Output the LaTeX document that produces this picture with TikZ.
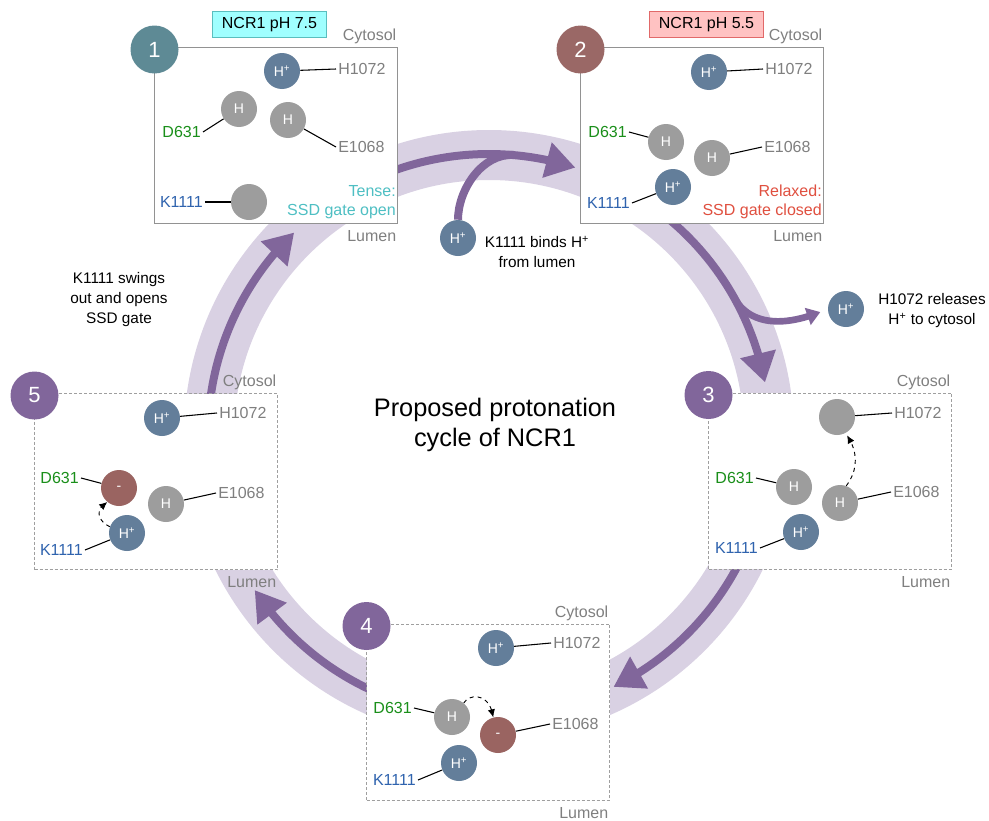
\documentclass[tikz,border=0pt]{standalone}
\usepackage{fontspec}
\setmainfont{Liberation Sans}
\usetikzlibrary{arrows.meta,bending,calc}

\definecolor{cband}{RGB}{217,209,227}
\definecolor{ccyc}{RGB}{129,102,155}
\definecolor{cprot}{RGB}{99,126,154}
\definecolor{cneut}{RGB}{157,157,157}
\definecolor{cneg}{RGB}{154,100,97}
\definecolor{cone}{RGB}{94,138,149}
\definecolor{ctwo}{RGB}{154,104,102}
\definecolor{cres}{RGB}{127,127,127}
\definecolor{cgreen}{RGB}{26,143,26}
\definecolor{cblue}{RGB}{47,99,174}
\definecolor{cteal}{RGB}{78,191,195}
\definecolor{cred}{RGB}{224,80,64}

\begin{document}
\begin{tikzpicture}[x=0.75pt,y=0.75pt,yscale=-1,xscale=1,
  prot/.style={circle,fill=cprot,text=white,minimum size=27pt,inner sep=0pt,font=\fontsize{10.5}{12}\selectfont},
  neut/.style={prot,fill=cneut},
  neg/.style={prot,fill=cneg},
  numc/.style={circle,fill=ccyc,text=white,minimum size=36pt,inner sep=0pt,font=\fontsize{16.5}{18}\selectfont},
  reslbl/.style={inner sep=1.5pt,font=\fontsize{12}{14}\selectfont,text=cres},
  stick/.style={line width=0.8pt},
  solidbox/.style={draw=cres!85,line width=0.8pt,fill=white,minimum width=182.25pt,minimum height=132pt,inner sep=0pt,outer sep=0pt},
  dashbox/.style={solidbox,draw=cres!75,line width=0.6pt,dash pattern=on 2.25pt off 1.5pt},
  sidelbl/.style={font=\fontsize{12}{14}\selectfont,text=cres,inner sep=0pt},
  statetxt/.style={align=right,inner sep=0pt,font=\fontsize{12}{14.5}\selectfont},
  cyc/.style={draw=ccyc,line width=6pt,-{Triangle[length=22pt,width=26pt]}},
  hop/.style={dashed,line width=0.7pt,-{Latex[length=6pt,width=5.5pt]}},
  notetxt/.style={align=center,font=\fontsize{11.5}{15}\selectfont}
]
  \path[use as bounding box] (0,0) rectangle (989,821);
  \coordinate (ring) at (489,435);
  %Shape: Ring
  \draw[cband,line width=37.5pt] (ring) circle[radius=280];
  %Curve Lines
  \draw[cyc] ($(ring)+(186:281)$) arc[start angle=186,end angle=226.1,radius=281];
  \draw[cyc] ($(ring)+(248:281)$) arc[start angle=248,end angle=287.9,radius=281];
  \draw[cyc] ($(ring)+(309:281)$) arc[start angle=309,end angle=349.2,radius=281];
  \draw[cyc] ($(ring)+(26:281)$) arc[start angle=26,end angle=63.7,radius=281];
  \draw[cyc] ($(ring)+(113:281)$) arc[start angle=113,end angle=146.5,radius=281];

  % Side protons
  \node[prot] (hlum) at (458,238) {H\textsuperscript{+}};
  \node[prot] (hcyt) at (846,309) {H\textsuperscript{+}};
  \draw[ccyc,line width=6pt] (hlum.north) .. controls (458,190) and (482,153) .. (514,155);
  \draw[ccyc,line width=5pt,-{Triangle[length=10pt,width=13pt]},shorten >=6pt] ($(ring)+(-29.5:281)$) .. controls (746,320) and (775,332) .. (hcyt.west);
  % Text Node
  \node[notetxt] (lumtxt) at (537,252) {K1111 binds H\textsuperscript{+}\\from lumen};
  \node[notetxt] (cyttxt) at (932,311) {H1072 releases\\H\textsuperscript{+} to cytosol};
  \node[notetxt] (swing) at (119,300) {K1111 swings\\out and opens\\SSD gate};
  \node[align=center,font=\fontsize{19}{22.5}\selectfont] (title) at (495,425) {Proposed protonation\\cycle of NCR1};

  %Shape: Panels
  \node[solidbox] (pan1) at (276,135.5) {};
  \node[solidbox] (pan2) at (702,135.5) {};
  \node[dashbox] (pan3) at (830,481) {};
  \node[dashbox] (pan4) at (488,712) {};
  \node[dashbox] (pan5) at (156,481.5) {};
  \foreach \p in {1,...,5}{
    \node[sidelbl,anchor=base east] (cyt\p) at ($(pan\p.north east)+(-1,-7)$) {Cytosol};
    \node[sidelbl,anchor=base east] (lum\p) at ($(pan\p.south east)+(-1,18)$) {Lumen};
  }
  \node[numc,fill=cone] (n1) at ($(pan1.north west)+(0,2)$) {1};
  \node[numc,fill=ctwo] (n2) at ($(pan2.north west)+(0,2)$) {2};
  \node[numc] (n3) at ($(pan3.north west)+(0,2)$) {3};
  \node[numc] (n4) at ($(pan4.north west)+(0,2)$) {4};
  \node[numc] (n5) at ($(pan5.north west)+(0,2)$) {5};
  \node[draw={rgb,255:red,90;green,190;blue,190},fill={rgb,255:red,160;green,255;blue,255},line width=0.8pt,minimum width=86pt,minimum height=19pt,inner sep=0pt,font=\fontsize{12}{14}\selectfont] (ph1) at (269.5,24.5) {NCR1 pH 7.5};
  \node[draw={rgb,255:red,225;green,105;blue,105},fill={rgb,255:red,255;green,194;blue,194},line width=0.8pt,minimum width=86pt,minimum height=19pt,inner sep=0pt,font=\fontsize{12}{14}\selectfont] (ph2) at (706.5,24.5) {NCR1 pH 5.5};

  % Panel 1
  \node[prot] (p1h) at (282,71) {H\textsuperscript{+}};
  \node[neut] (p1d) at (239,109) {H};
  \node[neut] (p1e) at (288,120) {H};
  \node[neut] (p1k) at (249,202) {};
  \node[reslbl,anchor=west] (p1hl) at (336,69) {H1072};
  \node[reslbl,anchor=east,text=cgreen] (p1dl) at (203,132) {D631};
  \node[reslbl,anchor=west] (p1el) at (336,147) {E1068};
  \node[reslbl,anchor=east,text=cblue] (p1kl) at (205,202) {K1111};
  \draw[stick] (p1h) -- (p1hl.west);
  \draw[stick] (p1d) -- (p1dl.east);
  \draw[stick] (p1e) -- (p1el.west);
  \draw[stick] (p1k) -- (p1kl.east);
  \node[statetxt,anchor=east,text=cteal] (p1st) at (396,202) {Tense:\\SSD gate open};

  % Panel 2
  \node[prot] (p2h) at (709,72) {H\textsuperscript{+}};
  \node[neut] (p2d) at (666,142) {H};
  \node[neut] (p2e) at (712,158) {H};
  \node[prot] (p2k) at (673,187) {H\textsuperscript{+}};
  \node[reslbl,anchor=west] (p2hl) at (763,69) {H1072};
  \node[reslbl,anchor=east,text=cgreen] (p2dl) at (629,132) {D631};
  \node[reslbl,anchor=west] (p2el) at (762,147) {E1068};
  \node[reslbl,anchor=east,text=cblue] (p2kl) at (632,203) {K1111};
  \draw[stick] (p2h) -- (p2hl.west);
  \draw[stick] (p2d) -- (p2dl.east);
  \draw[stick] (p2e) -- (p2el.west);
  \draw[stick] (p2k) -- (p2kl.east);
  \node[statetxt,anchor=east,text=cred] (p2st) at (822,202) {Relaxed:\\SSD gate closed};

  % Panel 3
  \node[neut] (p3h) at (837,417) {};
  \node[neut] (p3d) at (794,487) {H};
  \node[neut] (p3e) at (840,503) {H};
  \node[prot] (p3k) at (801,532) {H\textsuperscript{+}};
  \node[reslbl,anchor=west] (p3hl) at (892,413) {H1072};
  \node[reslbl,anchor=east,text=cgreen] (p3dl) at (756,478) {D631};
  \node[reslbl,anchor=west] (p3el) at (891,492) {E1068};
  \node[reslbl,anchor=east,text=cblue] (p3kl) at (760,548) {K1111};
  \draw[stick] (p3h) -- (p3hl.west);
  \draw[stick] (p3d) -- (p3dl.east);
  \draw[stick] (p3e) -- (p3el.west);
  \draw[stick] (p3k) -- (p3kl.east);
  \draw[hop,shorten >=2pt] (p3e.70) .. controls (858,470) and (859,452) .. (p3h.-62);

  % Panel 4
  \node[prot] (p4h) at (496,648) {H\textsuperscript{+}};
  \node[neut] (p4d) at (452,717) {H};
  \node[neg] (p4e) at (498,735) {-};
  \node[prot] (p4k) at (459,763) {H\textsuperscript{+}};
  \node[reslbl,anchor=west] (p4hl) at (551,643) {H1072};
  \node[reslbl,anchor=east,text=cgreen] (p4dl) at (414,708) {D631};
  \node[reslbl,anchor=west] (p4el) at (550,724) {E1068};
  \node[reslbl,anchor=east,text=cblue] (p4kl) at (418,780) {K1111};
  \draw[stick] (p4h) -- (p4hl.west);
  \draw[stick] (p4d) -- (p4dl.east);
  \draw[stick] (p4e) -- (p4el.west);
  \draw[stick] (p4k) -- (p4kl.east);
  \draw[hop] (p4d.50) .. controls (470,693) and (490,693) .. (p4e.105);

  % Panel 5
  \node[prot] (p5h) at (162,418) {H\textsuperscript{+}};
  \node[neg] (p5d) at (119,488) {-};
  \node[neut] (p5e) at (166,504) {H};
  \node[prot] (p5k) at (127,533) {H\textsuperscript{+}};
  \node[reslbl,anchor=west] (p5hl) at (217,413) {H1072};
  \node[reslbl,anchor=east,text=cgreen] (p5dl) at (81,478) {D631};
  \node[reslbl,anchor=west] (p5el) at (216,493) {E1068};
  \node[reslbl,anchor=east,text=cblue] (p5kl) at (85,550) {K1111};
  \draw[stick] (p5h) -- (p5hl.west);
  \draw[stick] (p5d) -- (p5dl.east);
  \draw[stick] (p5e) -- (p5el.west);
  \draw[stick] (p5k) -- (p5kl.east);
  \draw[hop] (p5k.160) .. controls (96,520) and (96,508) .. (p5d.-130);
\end{tikzpicture}
\end{document}
